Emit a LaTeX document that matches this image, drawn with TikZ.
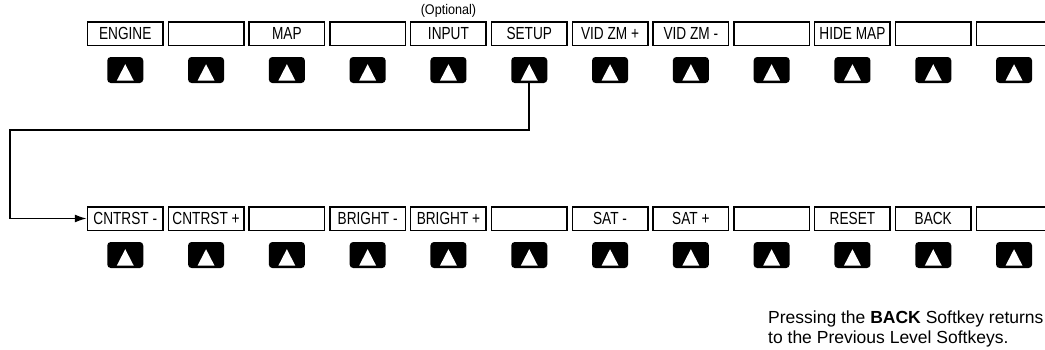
\documentclass[tikz,border=0pt]{standalone}
\usepackage{fontspec}
\setmainfont{Liberation Sans}
\newfontfamily\keyfont[FakeStretch=0.78]{Liberation Sans}
\newfontfamily\optfont[FakeStretch=0.9]{Liberation Sans}
\usetikzlibrary{arrows.meta, positioning, calc}

\begin{document}
\begin{tikzpicture}[
        x = 1pt, y = -1pt,
        keybox/.style = {draw, line width=1.5pt, minimum width=75.5pt, minimum height=23.5pt, inner sep=0pt, font=\fontsize{17.5}{19}\selectfont\keyfont},
        softbtn/.style = {fill=black, rounded corners=3.5pt, minimum width=36pt, minimum height=26pt, inner sep=0pt},
        conn/.style = {line width=1.6pt, -{Latex[length=12pt, width=8pt]}},
        note/.style = {align=left, inner sep=0pt, font=\fontsize{17.5}{20}\selectfont}
    ]
    \useasboundingbox (0,0) rectangle (1045,349);
    \clip (0,0) rectangle (1045,349);

    % top level softkeys
    \foreach \lbl [count=\i from 0] in {ENGINE,{},MAP,{},INPUT,SETUP,VID ZM +,VID ZM -,{},HIDE MAP,{},{}} {
        \node[keybox] (t\i) at (125.25+80.8*\i, 33.5) {\lbl};
        \node[softbtn] (tb\i) at (125.25+80.8*\i, 70) {};
        \fill[white] ([shift={(-8.5,-2.5)}]tb\i.south) -- ([shift={(8.5,-2.5)}]tb\i.south) -- ([shift={(0,-19)}]tb\i.south) -- cycle;
    }
    \node[anchor=south, inner sep=0pt, font=\fontsize{14}{15}\selectfont\optfont] (opt) at ([yshift=3pt]t4.north) {(Optional)};

    % setup softkeys
    \foreach \lbl [count=\i from 0] in {CNTRST -,CNTRST +,{},BRIGHT -,BRIGHT +,{},SAT -,SAT +,{},RESET,BACK,{}} {
        \node[keybox] (s\i) at (125.25+80.8*\i, 218.5) {\lbl};
        \node[softbtn] (sb\i) at (125.25+80.8*\i, 255) {};
        \fill[white] ([shift={(-8.5,-2.5)}]sb\i.south) -- ([shift={(8.5,-2.5)}]sb\i.south) -- ([shift={(0,-19)}]sb\i.south) -- cycle;
    }

    \coordinate (turn) at (10,130);
    \draw[conn] (tb5.south) |- (turn) |- (s0.west);

    \node[note, anchor=north west] (back) at (768,310.5) {Pressing the \textbf{BACK} Softkey returns\\to the Previous Level Softkeys.};
\end{tikzpicture}
\end{document}
